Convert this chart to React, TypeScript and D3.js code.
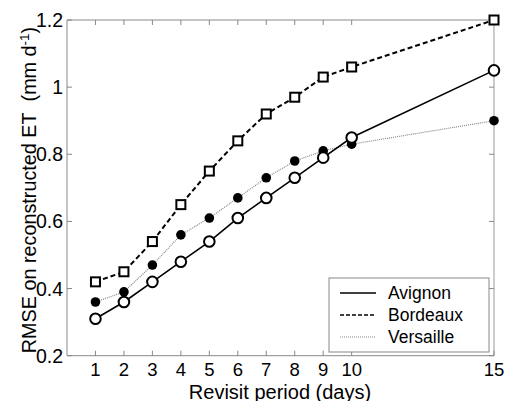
import React from "react";
import * as d3 from "d3";

const revisit = [1, 2, 3, 4, 5, 6, 7, 8, 9, 10, 15];
const avignon = [0.31, 0.36, 0.42, 0.48, 0.54, 0.61, 0.67, 0.73, 0.79, 0.85, 1.05];
const bordeaux = [0.42, 0.45, 0.54, 0.65, 0.75, 0.84, 0.92, 0.97, 1.03, 1.06, 1.2];
const versaille = [0.36, 0.39, 0.47, 0.56, 0.61, 0.67, 0.73, 0.78, 0.81, 0.83, 0.9];
const xTicks = [1, 2, 3, 4, 5, 6, 7, 8, 9, 10, 15];
const yTicks = [0.2, 0.4, 0.6, 0.8, 1.0, 1.2];
const seriesNames = ["Avignon", "Bordeaux", "Versaille"];

const W = 506;
const H = 401;
const L = 67, R = 494, T = 20, B = 355.7;
const FONT = "Arial, 'Liberation Sans', sans-serif";

export default function App() {
  const x = d3.scaleLinear().domain([0, 15]).range([L, R]);
  const y = d3.scaleLinear().domain([0.2, 1.2]).range([B, T]);
  const line = (vals: number[]) =>
    d3.line<number>().x((_, i) => x(revisit[i])).y((v) => y(v))(vals) || "";

  const styles = [
    { stroke: "#000", width: 1.6, dash: "none" },
    { stroke: "#000", width: 2, dash: "5,3" },
    { stroke: "#888", width: 1.2, dash: "1,1" },
  ];

  const legendRows = [293, 315, 337];

  return (
    <svg width={W} height={H} style={{ position: "absolute", left: 0, top: 0, background: "#fff" }}>
      <rect x={0} y={0} width={W} height={H} fill="#fff" />
      <line x1={L} y1={T} x2={R} y2={T} stroke="#888" strokeWidth={1} />
      <line x1={L} y1={B} x2={R} y2={B} stroke="#888" strokeWidth={1} />
      <line x1={L} y1={T} x2={L} y2={B} stroke="#888" strokeWidth={1} />
      <line x1={R} y1={T} x2={R} y2={B} stroke="#aaa" strokeWidth={1.2} />
      {xTicks.map((t) => (
        <g key={"xt" + t}>
          <line x1={x(t)} x2={x(t)} y1={B} y2={B - 5} stroke="#888" />
          <line x1={x(t)} x2={x(t)} y1={T} y2={T + 5} stroke="#888" />
          <text x={x(t)} y={376} textAnchor="middle" fontSize={18.5} fontFamily={FONT} fill="#000">
            {t}
          </text>
        </g>
      ))}
      {yTicks.map((t) => (
        <g key={"yt" + t}>
          <line x1={L} x2={L + 5} y1={y(t)} y2={y(t)} stroke="#888" />
          <line x1={R} x2={R - 5} y1={y(t)} y2={y(t)} stroke="#888" />
          <text x={63} y={y(t) + 7} textAnchor="end" fontSize={19.5} fontFamily={FONT} fill="#000">
            {t === 1 ? "1" : t.toFixed(1)}
          </text>
        </g>
      ))}
      <text x={280} y={398.5} textAnchor="middle" fontSize={20} fontFamily={FONT} fill="#000">
        Revisit period (days)
      </text>
      <text
        transform={`translate(36,190) rotate(-90)`}
        textAnchor="middle"
        fontSize={19.8}
        fontFamily={FONT}
        fill="#000"
      >
        RMSE on reconstructed ET{"\u00a0\u00a0"}(mm d
        <tspan dy={-7} fontSize={13.5}>-1</tspan>
        <tspan dy={7}>)</tspan>
      </text>

      <path d={line(versaille)} fill="none" stroke={styles[2].stroke} strokeWidth={styles[2].width} strokeDasharray={styles[2].dash} />
      <path d={line(bordeaux)} fill="none" stroke={styles[1].stroke} strokeWidth={styles[1].width} strokeDasharray={styles[1].dash} />
      <path d={line(avignon)} fill="none" stroke={styles[0].stroke} strokeWidth={styles[0].width} />

      {versaille.map((v, i) => (
        <circle key={"v" + i} cx={x(revisit[i])} cy={y(v)} r={4.8} fill="#000" />
      ))}
      {bordeaux.map((v, i) => (
        <rect key={"b" + i} x={x(revisit[i]) - 4.5} y={y(v) - 4.5} width={9} height={9} fill="#fff" stroke="#000" strokeWidth={2} />
      ))}
      {avignon.map((v, i) => (
        <circle key={"a" + i} cx={x(revisit[i])} cy={y(v)} r={5.3} fill="#fff" stroke="#000" strokeWidth={2} />
      ))}

      <rect x={329} y={278} width={160} height={74} fill="#fff" stroke="#888" strokeWidth={1} />
      {seriesNames.map((n, i) => (
        <g key={n}>
          <line
            x1={340}
            x2={376}
            y1={legendRows[i]}
            y2={legendRows[i]}
            stroke={styles[i].stroke}
            strokeWidth={i === 2 ? 1 : 1.6}
            strokeDasharray={i === 1 ? "4,2" : styles[i].dash}
          />
          <text x={388} y={legendRows[i] + 6} fontSize={17.5} fontFamily={FONT} fill="#000">
            {n}
          </text>
        </g>
      ))}
    </svg>
  );
}
